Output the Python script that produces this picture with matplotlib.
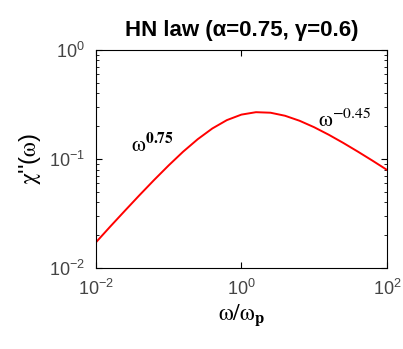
import matplotlib.pyplot as plt
import numpy as np
from matplotlib.ticker import LogLocator, NullLocator, NullFormatter

plt.rcParams['font.family'] = ['Liberation Sans', 'DejaVu Sans']
plt.rcParams['mathtext.fontset'] = 'custom'
plt.rcParams['mathtext.rm'] = 'Liberation Sans'
plt.rcParams['mathtext.it'] = 'Liberation Sans'
plt.rcParams['mathtext.bf'] = 'Liberation Sans:bold'

# values
omega = [0.01, 0.0158, 0.0251, 0.0398, 0.0631, 0.1, 0.158, 0.251, 0.398,
         0.631, 1.0, 1.585, 2.512, 3.981, 6.31, 10.0, 15.85, 25.12, 39.81,
         63.1, 100.0]
chi2 = [0.01719, 0.02407, 0.03359, 0.04662, 0.06418, 0.08729, 0.1166,
        0.1518, 0.1903, 0.2271, 0.2551, 0.2685, 0.2655, 0.2490, 0.2240,
        0.1955, 0.1669, 0.1404, 0.1169, 0.0967, 0.0795]
xticks = [1e-2, 1e0, 1e2]
yticks = [1e-2, 1e-1, 1e0]

fig = plt.figure(figsize=(4.03, 3.49), dpi=100)
ax = fig.add_axes([0.238, 0.232, 0.722, 0.625])

ax.plot(omega, chi2, color='red', linewidth=1.4)

ax.set_xscale('log')
ax.set_yscale('log')
ax.set_xlim(1e-2, 1e2)
ax.set_ylim(1e-2, 1e0)
ax.set_xticks(xticks)
ax.set_yticks(yticks)
ax.xaxis.set_minor_locator(NullLocator())
ax.yaxis.set_minor_locator(LogLocator(base=10, subs=np.arange(2, 10)))
ax.yaxis.set_minor_formatter(NullFormatter())
ax.tick_params(which='both', direction='in', top=True, right=True,
               labelsize=13, labelcolor='#444444', pad=8)
ax.tick_params(which='major', length=4)
ax.tick_params(which='minor', length=2)

ax.set_title('HN law (α=0.75, γ=0.6)', fontsize=16, fontweight='bold', pad=10)
ax.set_xlabel(r'$\mathrm{\omega}/\mathrm{\omega}_{\mathbf{p}}$', fontsize=17,
              labelpad=2, math_fontfamily='stix')
ax.set_ylabel(r"$\mathrm{\chi}$''($\mathrm{\omega}$)", fontsize=17,
              labelpad=4, math_fontfamily='stix')

ax.text(0.03, 0.116, r'$\mathrm{\omega}^{\mathbf{0.75}}$', fontsize=16,
        math_fontfamily='stix')
ax.text(11.2, 0.197, r'$\mathrm{\omega}^{\mathrm{-0.45}}$', fontsize=16,
        math_fontfamily='stix')

fig.savefig('out.png', dpi=100)
